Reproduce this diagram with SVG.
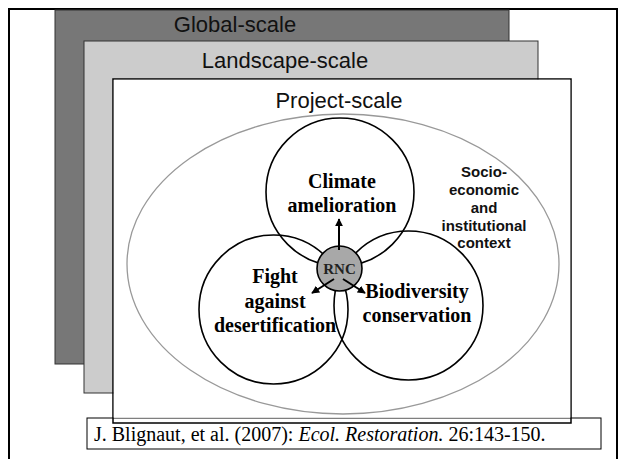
<svg xmlns="http://www.w3.org/2000/svg" width="618" height="459" viewBox="0 0 618 459">
<style>
.scale{font-family:"Liberation Sans",Arial,sans-serif;font-size:22px;fill:#111;text-anchor:middle}
.lbl{font-family:"Liberation Serif","Times New Roman",serif;font-size:20px;font-weight:bold;fill:#000;text-anchor:middle}
.rnc{font-family:"Liberation Serif","Times New Roman",serif;font-size:15px;font-weight:bold;fill:#222;text-anchor:middle}
.ctx{font-family:"Liberation Sans",Arial,sans-serif;font-size:15px;font-weight:bold;fill:#111;text-anchor:middle}
.cite{font-family:"Liberation Serif","Times New Roman",serif;font-size:20px;fill:#000}
.ring{fill:none;stroke:#000;stroke-width:1.6}
.conn{stroke:#000;stroke-width:2;fill:none}
</style>
<defs>
<marker id="ah" viewBox="0 0 10 10" refX="9" refY="5" markerWidth="4" markerHeight="4" orient="auto" markerUnits="strokeWidth">
<path d="M0,0 L10,5 L0,10 z" fill="#000"/>
</marker>
</defs>
<rect x="0" y="0" width="618" height="459" fill="#fff"/>
<rect id="frame" x="9" y="9" width="608" height="460" fill="none" stroke="#000" stroke-width="2"/>
<g id="global">
<rect x="55" y="10" width="454" height="354" fill="#777777" stroke="#333" stroke-width="1"/>
<text class="scale" x="235" y="32">Global-scale</text>
</g>
<g id="landscape">
<rect x="84" y="41" width="454" height="352" fill="#cccccc" stroke="#333" stroke-width="1"/>
<text class="scale" x="285" y="68">Landscape-scale</text>
</g>
<g id="citation">
<rect x="87" y="418" width="514" height="31" fill="#fff" stroke="#000" stroke-width="1"/>
<text class="cite" x="94" y="441">J. Blignaut, et al. (2007): <tspan font-style="italic">Ecol. Restoration.</tspan> 26:143-150.</text>
</g>
<g id="project">
<rect x="113" y="79" width="458" height="344" fill="none" stroke="#000" stroke-width="1.5"/>
<rect x="113.75" y="79.75" width="456.5" height="338" fill="#fff"/>
<text class="scale" x="339" y="108">Project-scale</text>
</g>
<g id="context">
<ellipse cx="343" cy="264" rx="216" ry="150" fill="none" stroke="#999" stroke-width="1.3"/>
<text class="ctx" x="484" y="177">Socio-</text>
<text class="ctx" x="484" y="195">economic</text>
<text class="ctx" x="484" y="213">and</text>
<text class="ctx" x="484" y="231">institutional</text>
<text class="ctx" x="484" y="248">context</text>
</g>
<g id="climate">
<circle class="ring" cx="340" cy="192" r="74"/>
<text class="lbl" x="342" y="188">Climate</text>
<text class="lbl" x="342" y="212">amelioration</text>
</g>
<g id="desertification">
<circle class="ring" cx="273.5" cy="309.5" r="74.5"/>
<text class="lbl" x="275" y="283">Fight</text>
<text class="lbl" x="275" y="307.5">against</text>
<text class="lbl" x="275" y="332">desertification</text>
</g>
<g id="biodiversity">
<circle class="ring" cx="408.5" cy="305.5" r="74.5"/>
<text class="lbl" x="417" y="298">Biodiversity</text>
<text class="lbl" x="417" y="322">conservation</text>
</g>
<g id="rnc">
<circle cx="339.5" cy="268.5" r="22.5" fill="#a8a8a8" stroke="#000" stroke-width="1.6"/>
<text class="rnc" x="339.5" y="274">RNC</text>
</g>
<g id="connectors">
<line class="conn" x1="339" y1="250" x2="339" y2="219" marker-end="url(#ah)"/>
<line class="conn" x1="334" y1="279" x2="312" y2="293" marker-end="url(#ah)"/>
<line class="conn" x1="343" y1="279" x2="365" y2="293" marker-end="url(#ah)"/>
</g>
</svg>
